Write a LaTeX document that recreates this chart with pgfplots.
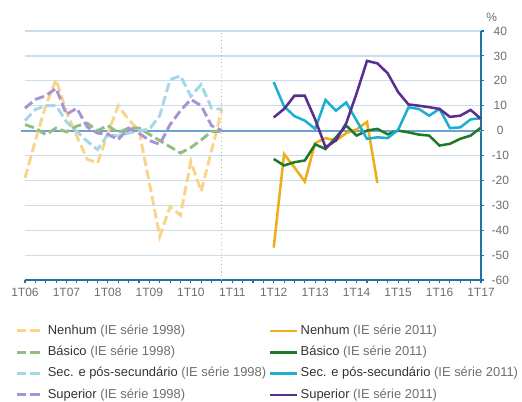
\documentclass[border=0pt]{standalone}
\usepackage{fontspec}
\setmainfont{Liberation Sans}
\usepackage{pgfplots}
\pgfplotsset{compat=1.18}

\definecolor{nenA}{HTML}{F9D48C}
\definecolor{nenB}{HTML}{F0AD1A}
\definecolor{basA}{HTML}{93BD82}
\definecolor{basB}{HTML}{1D7A2A}
\definecolor{secA}{HTML}{A3D8E8}
\definecolor{secB}{HTML}{1BAFD0}
\definecolor{supA}{HTML}{A894D2}
\definecolor{supB}{HTML}{5A2D91}
\definecolor{gridblue}{HTML}{C9DDED}
\definecolor{zeroblue}{HTML}{6BA3D4}
\definecolor{axisblue}{HTML}{2272A8}
\definecolor{labelgray}{HTML}{6E6E6E}
\definecolor{namegray}{HTML}{333333}

\pgfplotsset{
  old/.style={line width=2.2pt, dash pattern=on 7pt off 3pt},
  new/.style={line width=1.9pt, solid},
}
\newcommand{\entry}[2]{\textcolor{namegray}{#1} \textcolor{labelgray}{(IE série #2)}}

\begin{document}
\begin{tikzpicture}[font=\fontsize{9}{11}\selectfont]
\path[use as bounding box] (-18.75pt,-90.75pt) rectangle (372.75pt,210pt);
\begin{axis}[
  at={(0pt,0pt)}, anchor=south west,
  scale only axis, width=342pt, height=186.75pt,
  xmin=0, xmax=44, ymin=-60, ymax=40,
  axis x line*=bottom, axis y line*=right,
  axis line style={axisblue, line width=1.5pt, -},
  xtick={0,4,...,44},
  xticklabels={1T06,1T07,1T08,1T09,1T10,1T11,1T12,1T13,1T14,1T15,1T16,1T17},
  minor xtick={0,...,44},
  ytick={-60,-50,...,40},
  ymajorgrids, grid style={gridblue, line width=0.9pt},
  tick align=outside, major tick length=2.5pt, minor tick length=2.5pt,
  tick style={axisblue, line width=0.8pt},
  ticklabel style={text=labelgray, font=\fontsize{9}{11}\selectfont},
  /pgf/number format/assume math mode=true,
  yticklabel style={anchor=center, xshift=12pt},
  clip=false,
  legend columns=2,
  legend cell align=left,
  legend image code/.code={\draw[#1] (0pt,0pt) -- (20pt,0pt);},
  legend style={at={(-0.03,-0.15)}, anchor=north west, draw=none, fill=none,
    font=\fontsize{9.7}{11}\selectfont,
    /tikz/every even column/.append style={column sep=0pt},
    nodes={text height=7pt, text depth=2pt, inner ysep=3.5pt}},
]
\draw[zeroblue, line width=1.5pt] (axis cs:-0.4,0) -- (axis cs:44,0);
\draw[gray!55, dotted, line width=0.8pt] (axis cs:19,-60) -- (axis cs:19,40);

\addplot[old, nenA] coordinates {
(0,-19) (1,-4) (2,10) (3,20.5) (4,7.5) (5,-2.3) (6,-11.5) (7,-13) (8,-1) (9,10)
(10,4.4) (11,0) (12,-21) (13,-42.5) (14,-30.5) (15,-34) (16,-12.3) (17,-24.4) (18,-8) (19,8.5)};
\addlegendentry{\entry{Nenhum}{1998}}
\addplot[new, nenB] coordinates {
(24,-47) (25,-9.4) (26,-14.8) (27,-20.5) (28,-5) (29,-3) (30,-4) (31,-1) (32,0.5) (33,3.5) (34,-21)};
\addlegendentry{\entry{Nenhum}{2011}}

\addplot[old, basA] coordinates {
(0,2.4) (1,1) (2,-1.6) (3,1) (4,-0.5) (5,1.8) (6,3) (7,0) (8,2) (9,-0.8)
(10,1) (11,1) (12,-1.5) (13,-4) (14,-6.5) (15,-9) (16,-6.8) (17,-3.8) (18,-0.3) (19,-0.3)};
\addlegendentry{\entry{Básico}{1998}}
\addplot[new, basB] coordinates {
(24,-11.4) (25,-14) (26,-12.7) (27,-12) (28,-5.5) (29,-7.4) (30,-2.7) (31,2) (32,-2) (33,0)
(34,0.7) (35,-1.5) (36,0) (37,-0.7) (38,-1.6) (39,-2) (40,-6) (41,-5.3) (42,-3.3) (43,-2) (44,1.2)};
\addlegendentry{\entry{Básico}{2011}}

\addplot[old, secA] coordinates {
(0,4) (1,8.5) (2,10) (3,10) (4,3.5) (5,-0.3) (6,-4.3) (7,-7.6) (8,-1.5) (9,-2.2)
(10,-1) (11,0) (12,0.5) (13,6) (14,20.5) (15,22) (16,13.8) (17,18.5) (18,9) (19,8.5)};
\addlegendentry{\entry{Sec. e pós-secundário}{1998}}
\addplot[new, secB] coordinates {
(24,19.5) (25,9.7) (26,5.8) (27,4) (28,0.7) (29,12.3) (30,8) (31,11.3) (32,4) (33,-3.3)
(34,-2.7) (35,-3) (36,0.3) (37,9.3) (38,8.7) (39,6) (40,8.7) (41,1) (42,1.3) (43,4.5) (44,5)};
\addlegendentry{\entry{Sec. e pós-secundário}{2011}}

\addplot[old, supA] coordinates {
(0,9) (1,12.5) (2,14) (3,17) (4,6.5) (5,9) (6,1.5) (7,-1) (8,-1.5) (9,-3.6)
(10,1) (11,-1) (12,-4) (13,-5.5) (14,2.4) (15,8) (16,12.5) (17,10) (18,2) (19,0)};
\addlegendentry{\entry{Superior}{1998}}
\addplot[new, supB] coordinates {
(24,5.3) (25,8.7) (26,14) (27,14) (28,4.5) (29,-6.7) (30,-4) (31,3) (32,15) (33,28)
(34,27) (35,23) (36,15.5) (37,10.5) (38,10) (39,9.4) (40,8.7) (41,5.5) (42,6) (43,8.3) (44,4.7)};
\addlegendentry{\entry{Superior}{2011}}

\node[text=labelgray, font=\fontsize{9}{11}\selectfont] at (rel axis cs:1,1) [xshift=8pt, yshift=10.5pt] {\%};
\end{axis}
\end{tikzpicture}
\end{document}
